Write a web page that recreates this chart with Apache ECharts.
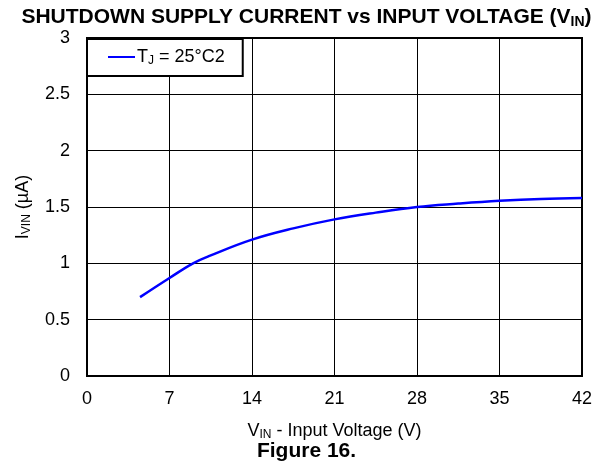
<!DOCTYPE html>
<html><head><meta charset="utf-8">
<script src="https://cdn.jsdelivr.net/npm/echarts@6/dist/echarts.min.js"></script>
<style>html,body{margin:0;padding:0;background:#fff}#c{width:613px;height:467px}</style>
</head><body><div id="c"></div>
<script>
const vin = [4.5, 7, 9, 10.5, 14, 17.5, 21, 24.5, 28, 31.5, 35, 38.5, 42];
const ivin = [0.70, 0.87, 1.0, 1.07, 1.21, 1.31, 1.39, 1.45, 1.50, 1.53, 1.555, 1.572, 1.58];
const xTicks = [0, 7, 14, 21, 28, 35, 42];
const yTicks = [0, 0.5, 1, 1.5, 2, 2.5, 3];
const seriesName = 'TJ';

const FONT = '"Liberation Sans", Arial, sans-serif';
const sub = {fontSize: 12, fontFamily: FONT, padding: [8, 0, 0, 0], color: '#000'};
const chart = echarts.init(document.getElementById('c'));
chart.setOption({
  animation: false,
  backgroundColor: '#fff',
  title: [{
    text: 'SHUTDOWN SUPPLY CURRENT vs INPUT VOLTAGE (V{s|IN})',
    left: 'center', top: 0,
    textStyle: {fontFamily: FONT, fontSize: 21, fontWeight: 'bold', color: '#000',
      rich: {s: {fontFamily: FONT, fontSize: 14, fontWeight: 'bold', padding: [10, 0, 0, 0], color: '#000'}}}
  }, {
    text: 'Figure 16.', left: 'center', top: 436,
    textStyle: {fontFamily: FONT, fontSize: 21, fontWeight: 'bold', color: '#000'}
  }],
  grid: {left: 87, right: 31, top: 38, bottom: 91, show: true, borderColor: '#000', borderWidth: 2, backgroundColor: 'transparent'},
  legend: {
    left: 87, top: 39,
    padding: [9, 18, 9, 21],
    backgroundColor: '#fff', borderColor: '#000', borderWidth: 2,
    icon: 'rect', itemWidth: 27, itemHeight: 2, itemGap: 0,
    formatter: () => 'T{s|J} = 25°C2',
    textStyle: {fontFamily: FONT, fontSize: 18, color: '#000', padding: [0,0,0,-3], rich: {s: sub}},
    data: [seriesName]
  },
  xAxis: {
    type: 'value', min: 0, max: 42, interval: 7,
    name: 'V{s|IN} - Input Voltage (V)', nameLocation: 'middle', nameGap: 45,
    nameTextStyle: {fontFamily: FONT, fontSize: 18, color: '#000', rich: {s: sub}},
    axisLine: {show: false}, axisTick: {show: false},
    axisLabel: {fontFamily: FONT, fontSize: 18, color: '#000', margin: 14,
      formatter: v => xTicks.includes(v) ? String(v) : ''},
    splitLine: {show: true, lineStyle: {color: '#000', width: 1}}
  },
  yAxis: {
    type: 'value', min: 0, max: 3, interval: 0.5,
    name: 'I{s|VIN} (µA)', nameLocation: 'middle', nameGap: 54, nameRotate: 90,
    nameTextStyle: {fontFamily: FONT, fontSize: 18, color: '#000', rich: {s: sub}},
    axisLine: {show: false}, axisTick: {show: false},
    axisLabel: {fontFamily: FONT, fontSize: 18, color: '#000', margin: 17,
      formatter: v => yTicks.includes(v) ? String(v) : ''},
    splitLine: {show: true, lineStyle: {color: '#000', width: 1}}
  },
  series: [{
    name: seriesName, type: 'line', smooth: 0.4, symbol: 'none',
    lineStyle: {color: '#0000ff', width: 2.5}, itemStyle: {color: '#0000ff'},
    data: vin.map((x, i) => [x, ivin[i]]), z: 3
  }]
});
</script></body></html>
